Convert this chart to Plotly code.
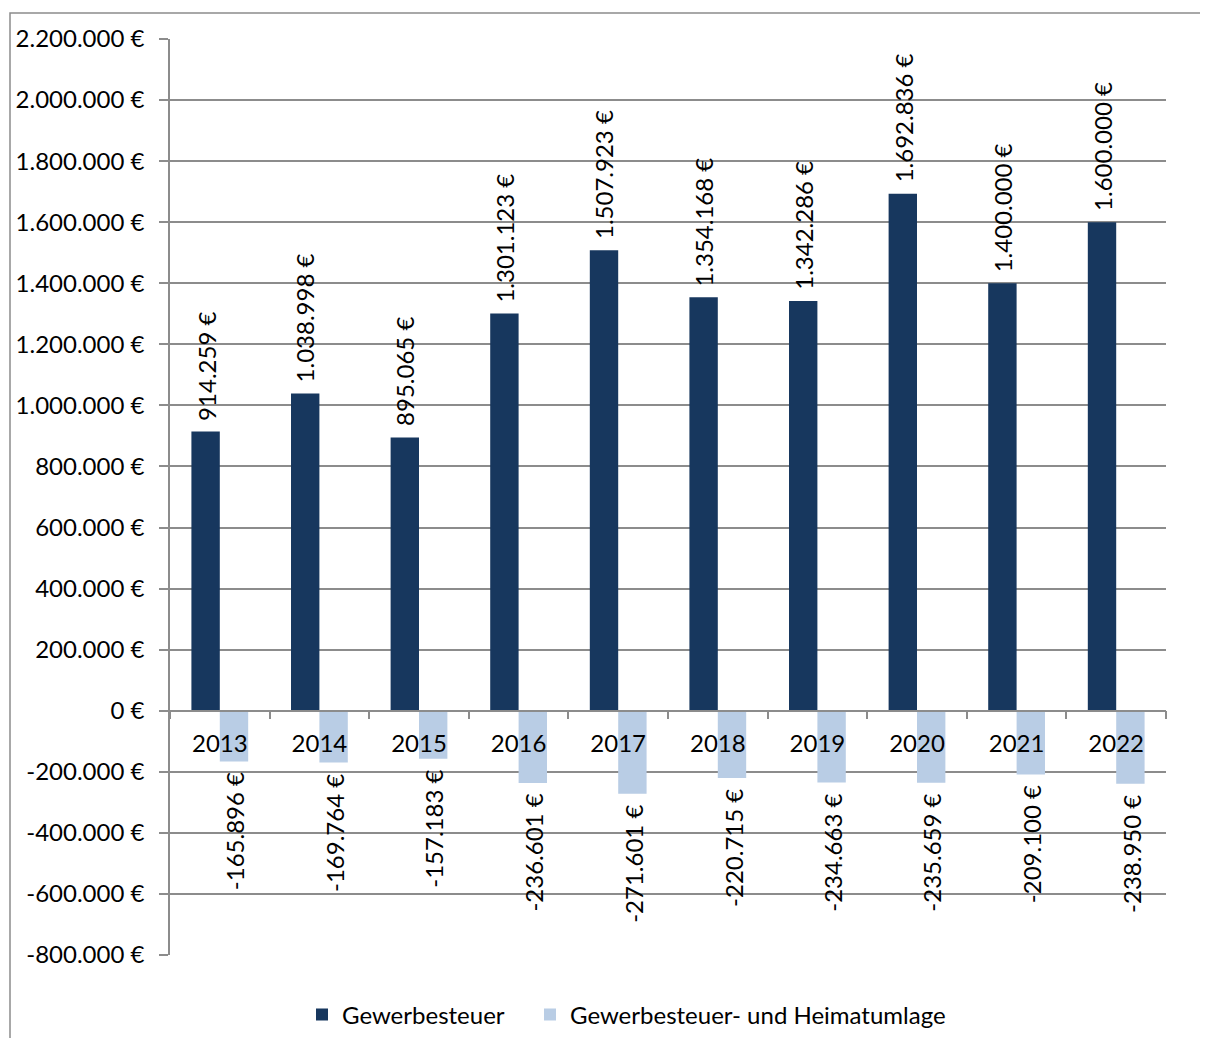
import plotly.graph_objects as go

years = ["2013", "2014", "2015", "2016", "2017", "2018", "2019", "2020", "2021", "2022"]
gewerbesteuer = [914259, 1038998, 895065, 1301123, 1507923, 1354168, 1342286, 1692836, 1400000, 1600000]
umlage = [-165896, -169764, -157183, -236601, -271601, -220715, -234663, -235659, -209100, -238950]
y_ticks = [-800000, -600000, -400000, -200000, 0, 200000, 400000, 600000, 800000,
           1000000, 1200000, 1400000, 1600000, 1800000, 2000000, 2200000]
series_names = ["Gewerbesteuer", "Gewerbesteuer- und Heimatumlage"]


def eur(v):
    return f"{v:,}".replace(",", ".") + " €"


DARK = "#17375E"
LIGHT = "#B9CDE5"
GRID = "#8C8C8C"
FONT = "Lato"
FS = 24

# the page body has an 8px margin on every side
OFF = 8
W, H = 1208 - 2 * OFF, 1046 - 2 * OFF
L, T = 170 - OFF, 39 - OFF
R, B = W - (1166 - OFF), H - (955 - OFF)
pw, ph = W - L - R, H - T - B
ymin, ymax = -800000, 2200000


def px_x(x):  # reference pixel -> paper x
    return (x - OFF - L) / pw


def px_y(y):  # reference pixel -> paper y
    return (T + ph - (y - OFF)) / ph


def cx(x):  # reference pixel -> container x
    return (x - OFF) / W


def cy(y):  # reference pixel -> container y
    return 1 - (y - OFF) / H


fig = go.Figure()
fig.add_trace(go.Bar(x=years, y=gewerbesteuer, name=series_names[0], marker_color=DARK,
                     marker_line_width=0, legend="legend"))
fig.add_trace(go.Bar(x=years, y=umlage, name=series_names[1], marker_color=LIGHT,
                     marker_line_width=0, legend="legend2"))

annotations = []
for i, v in enumerate(gewerbesteuer):
    annotations.append(dict(x=i, y=v, text=eur(v), textangle=-90, showarrow=False,
                            xanchor="center", yanchor="bottom", xshift=-14, yshift=9,
                            font=dict(family=FONT, size=FS, color="black")))
for i, v in enumerate(umlage):
    annotations.append(dict(x=i, y=v, text=eur(v), textangle=-90, showarrow=False,
                            xanchor="center", yanchor="top", xshift=15, yshift=-9,
                            font=dict(family=FONT, size=FS, color="black")))

leg_common = dict(orientation="h", xanchor="left", xref="container", yref="container",
                  y=cy(1015), yanchor="middle",
                  font=dict(family=FONT, size=FS, color="black"),
                  bgcolor="rgba(0,0,0,0)", itemclick=False, itemdoubleclick=False)

fig.update_layout(
    width=W, height=H,
    margin=dict(l=L, r=R, t=T, b=B, pad=0, autoexpand=False),
    paper_bgcolor="white", plot_bgcolor="white",
    font=dict(family=FONT, size=FS, color="black"),
    barmode="group", bargap=0.43, bargroupgap=0,
    annotations=annotations,
    showlegend=True,
    legend=dict(x=cx(302), **leg_common),
    legend2=dict(x=cx(530), **leg_common),
    shapes=[dict(type="rect", xref="paper", yref="paper",
                 x0=px_x(10), x1=px_x(1300),
                 y0=px_y(1100), y1=px_y(13),
                 line=dict(color=GRID, width=1.5), layer="below")],
)

fig.update_yaxes(
    range=[ymin, ymax], tickvals=y_ticks, ticktext=[eur(v) for v in y_ticks],
    automargin=False,
    showgrid=True, gridcolor=GRID, gridwidth=1.5,
    showline=True, linecolor=GRID, linewidth=1.5,
    ticks="outside", ticklen=9, tickwidth=1.5, tickcolor=GRID,
    ticklabelstandoff=10, zeroline=False,
    tickfont=dict(family=FONT, size=FS, color="black"),
)
fig.update_xaxes(
    type="category", range=[-0.5, len(years) - 0.5], autorange=False,
    automargin=False,
    anchor="free", position=(0 - ymin) / (ymax - ymin),
    showline=True, linecolor=GRID, linewidth=1.5,
    ticks="outside", tickson="boundaries", ticklen=8, tickwidth=1.5, tickcolor=GRID,
    ticklabelstandoff=12, tickangle=0, showgrid=False, zeroline=False,
    tickfont=dict(family=FONT, size=FS, color="black"),
)

fig.write_html("out.html")
